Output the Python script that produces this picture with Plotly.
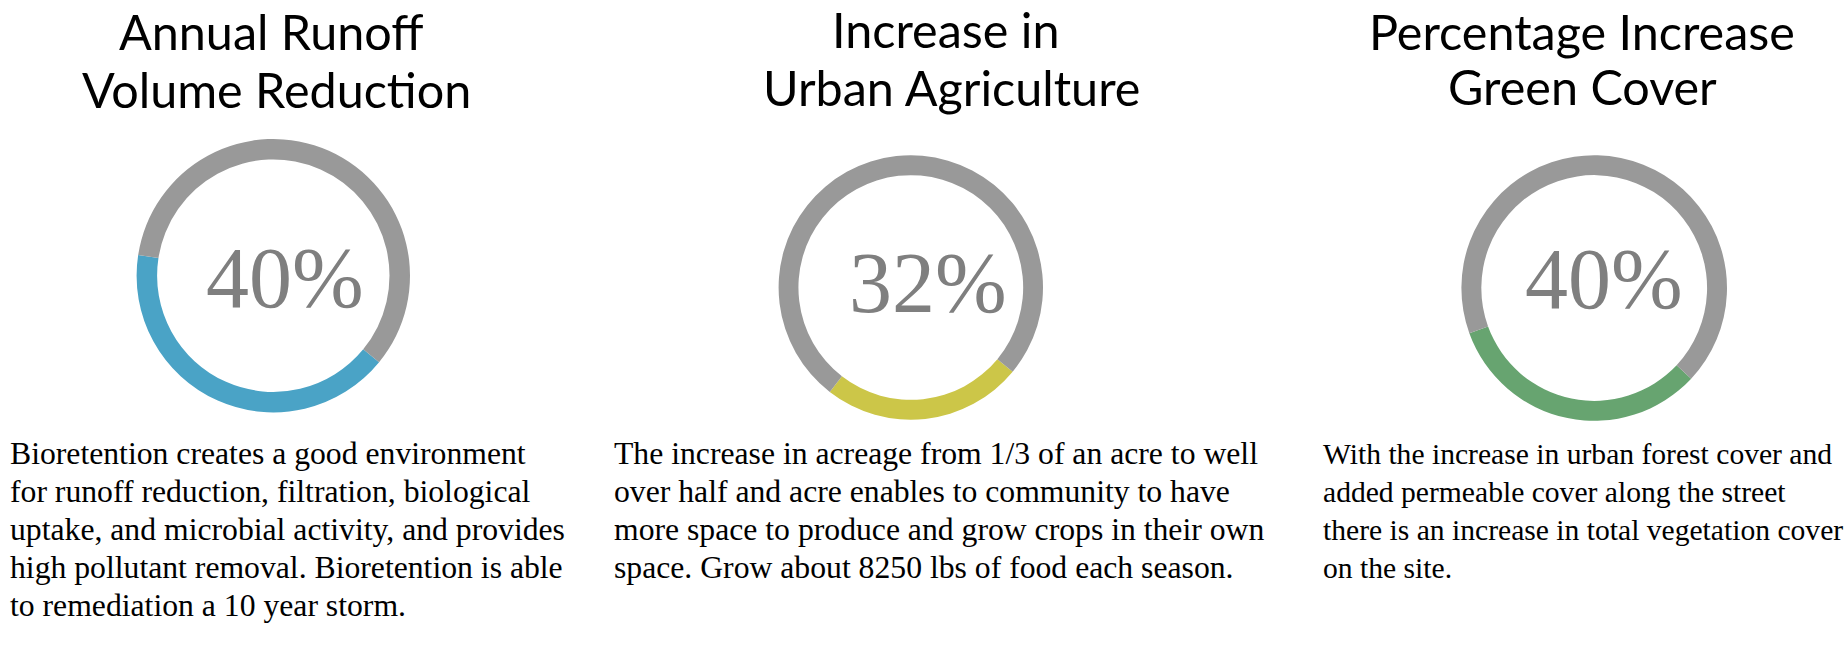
import plotly.graph_objects as go

W, H = 1845, 659

# ---- data ----
metrics = ["Annual Runoff Volume Reduction", "Increase in Urban Agriculture", "Percentage Increase Green Cover"]
arc_values = [41.5, 24.5, 32.5]          # coloured share of each ring as drawn
rest_values = [100 - v for v in arc_values]
center_labels = ["40%", "32%", "40%"]
title_line1 = ["Annual Runoff", "Increase in", "Percentage Increase"]
title_line2 = ["Volume Reduction", "Urban Agriculture", "Green Cover"]
body_lines = [
    ["Bioretention creates a good environment",
     "for runoff reduction, filtration, biological",
     "uptake, and microbial activity, and provides",
     "high pollutant removal. Bioretention is able",
     "to remediation a 10 year storm."],
    ["The increase in acreage from 1/3 of an acre to well",
     "over half and acre enables to community to have",
     "more space to produce and grow crops in their own",
     "space. Grow about 8250 lbs of food each season."],
    ["With the increase in urban forest cover and",
     "added permeable cover along the street",
     "there is an increase in total vegetation cover",
     "on the site."],
]
arc_colors = ["#4AA3C6", "#CCC648", "#67A470"]
ring_grey = "#999999"

# ---- layout geometry (pixels) ----
centers = [(273.3, 275.7), (910.8, 287.5), (1594.2, 288.0)]
radii = [136.7, 132.2, 132.8]
rotations = [129.3, 129.6, 133.1]
label_pos = [(285, 277.7), (927.8, 283.3), (1603.7, 278.7)]
t1_pos = [(271.2, 50), (945.8, 48), (1582.2, 50)]
t2_pos = [(276, 108.3), (951.5, 106), (1582.2, 105)]
body_left = [8, 612, 1321]
body_fs = [31.7, 31.7, 29.6]
BODY_BASE0 = 464
BODY_STEP = 38
TITLE_FS = 48.5


def px(x):
    return x / W


def py(y):
    return 1 - y / H


fig = go.Figure()
for i in range(3):
    cx, cy = centers[i]
    r = radii[i]
    fig.add_trace(go.Pie(
        values=[arc_values[i], rest_values[i]],
        labels=["value", "remaining"],
        marker=dict(colors=[arc_colors[i], ring_grey], line=dict(width=0)),
        hole=0.85,
        sort=False,
        direction="clockwise",
        rotation=rotations[i],
        textinfo="none",
        hoverinfo="skip",
        showlegend=False,
        domain=dict(x=[px(cx - r), px(cx + r)], y=[py(cy + r), py(cy - r)]),
        name=metrics[i],
    ))

annotations = []
for i in range(3):
    for (x, base), txt in ((t1_pos[i], title_line1[i]), (t2_pos[i], title_line2[i])):
        annotations.append(dict(
            text=txt, x=px(x), y=py(base - 0.39 * TITLE_FS), xref="paper", yref="paper",
            xanchor="center", yanchor="middle", showarrow=False,
            font=dict(family="Lato", size=TITLE_FS, color="#000000"),
        ))
    lx, ly = label_pos[i]
    annotations.append(dict(
        text=center_labels[i], x=px(lx), y=py(ly), xref="paper", yref="paper",
        xanchor="center", yanchor="middle", showarrow=False,
        font=dict(family="Liberation Serif", size=86, color="#7F7F7F"),
    ))
    fs = body_fs[i]
    for k, line in enumerate(body_lines[i]):
        base = BODY_BASE0 + k * BODY_STEP
        annotations.append(dict(
            text=line, x=px(body_left[i]), y=py(base - 0.891 * fs - 2),
            xref="paper", yref="paper",
            xanchor="left", yanchor="top", align="left", showarrow=False,
            font=dict(family="Liberation Serif", size=fs, color="#000000"),
        ))

fig.update_layout(
    width=W, height=H,
    margin=dict(l=0, r=0, t=0, b=0),
    paper_bgcolor="white", plot_bgcolor="white",
    annotations=annotations,
)
fig.write_html("out.html", config={"displayModeBar": False})
